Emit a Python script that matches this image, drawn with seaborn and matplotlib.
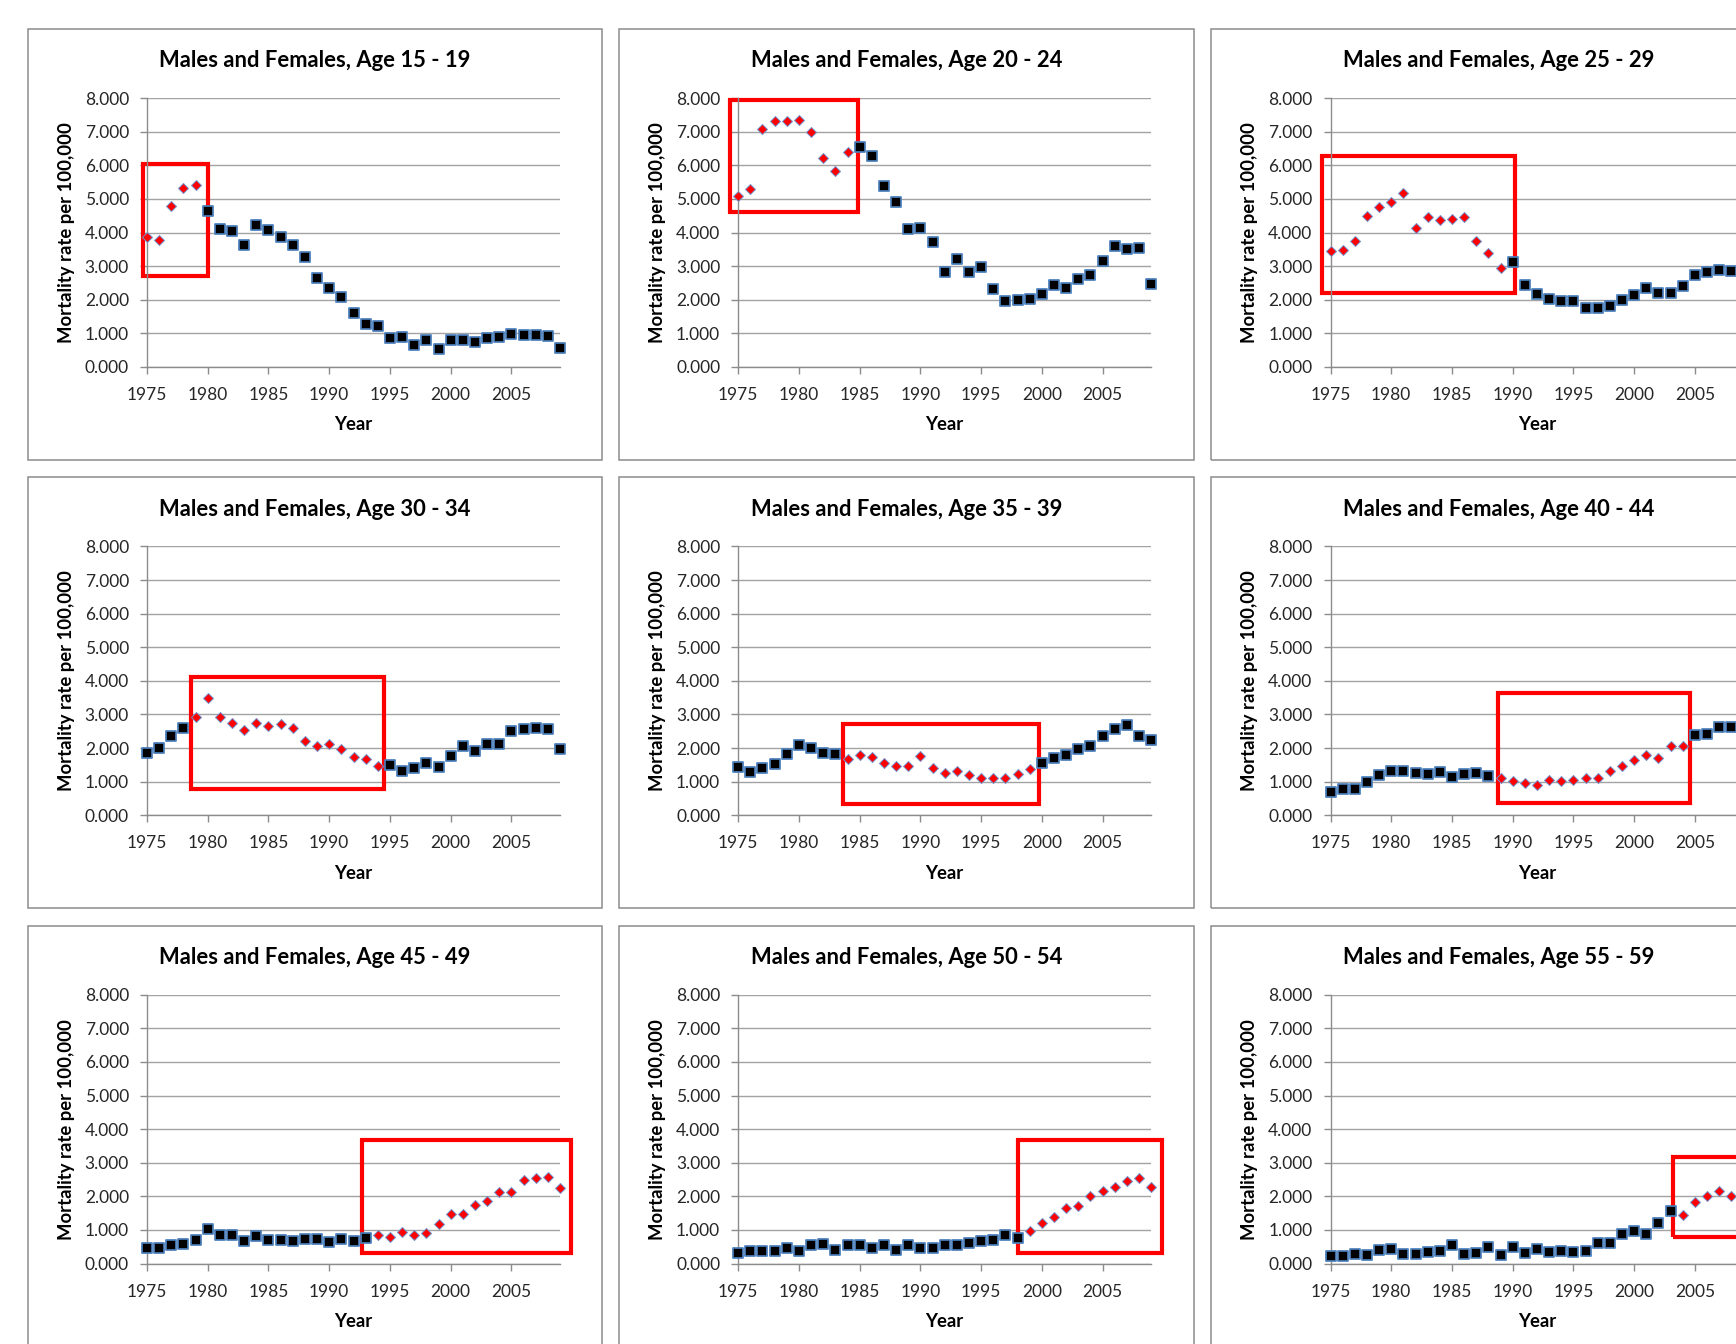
import matplotlib
matplotlib.use("Agg")
import matplotlib.pyplot as plt
import seaborn as sns
import pandas as pd
from matplotlib.patches import Rectangle
from matplotlib.ticker import FuncFormatter

# ---------------- data ----------------
years = list(range(1975, 2010))

rate_15_19 = [3.86, 3.77, 4.78, 5.32, 5.42, 4.65, 4.10, 4.03, 3.62, 4.22, 4.08, 3.86, 3.62, 3.26, 2.64,
              2.35, 2.07, 1.61, 1.29, 1.21, 0.86, 0.89, 0.66, 0.81, 0.52, 0.81, 0.81, 0.73, 0.86, 0.89,
              0.98, 0.96, 0.96, 0.93, 0.55]
rate_20_24 = [5.08, 5.28, 7.09, 7.31, 7.31, 7.36, 6.98, 6.21, 5.82, 6.39, 6.54, 6.28, 5.37, 4.91, 4.09,
              4.12, 3.72, 2.81, 3.21, 2.83, 2.96, 2.31, 1.95, 1.98, 2.01, 2.16, 2.45, 2.34, 2.62, 2.75,
              3.15, 3.61, 3.50, 3.54, 2.48]
rate_25_29 = [3.44, 3.49, 3.76, 4.48, 4.75, 4.90, 5.19, 4.13, 4.46, 4.36, 4.41, 4.46, 3.76, 3.39, 2.94,
              3.11, 2.43, 2.18, 2.03, 1.95, 1.95, 1.75, 1.75, 1.80, 2.00, 2.13, 2.35, 2.20, 2.20, 2.40,
              2.75, 2.82, 2.89, 2.84]
rate_30_34 = [1.86, 2.00, 2.37, 2.60, 2.94, 3.48, 2.94, 2.75, 2.53, 2.75, 2.65, 2.71, 2.60, 2.22, 2.05,
              2.12, 1.96, 1.73, 1.67, 1.48, 1.50, 1.33, 1.42, 1.55, 1.43, 1.76, 2.05, 1.91, 2.11, 2.13,
              2.52, 2.57, 2.60, 2.57, 1.97]
rate_35_39 = [1.43, 1.28, 1.40, 1.54, 1.83, 2.08, 2.01, 1.84, 1.82, 1.68, 1.80, 1.73, 1.56, 1.48, 1.48,
              1.76, 1.40, 1.25, 1.32, 1.20, 1.11, 1.12, 1.10, 1.22, 1.38, 1.56, 1.72, 1.78, 1.98, 2.05,
              2.35, 2.57, 2.69, 2.37, 2.23]
rate_40_44 = [0.69, 0.79, 0.77, 1.00, 1.20, 1.32, 1.33, 1.27, 1.22, 1.28, 1.14, 1.22, 1.25, 1.18, 1.10,
              1.02, 0.96, 0.90, 1.05, 1.01, 1.04, 1.12, 1.12, 1.33, 1.47, 1.66, 1.78, 1.70, 2.07, 2.05,
              2.38, 2.42, 2.62, 2.62]
rate_45_49 = [0.47, 0.47, 0.55, 0.59, 0.69, 1.04, 0.86, 0.84, 0.67, 0.81, 0.71, 0.71, 0.67, 0.74, 0.74,
              0.64, 0.74, 0.67, 0.76, 0.84, 0.79, 0.94, 0.84, 0.91, 1.19, 1.47, 1.47, 1.73, 1.86, 2.13,
              2.12, 2.48, 2.56, 2.58, 2.25]
rate_50_54 = [0.33, 0.38, 0.38, 0.38, 0.45, 0.37, 0.56, 0.57, 0.40, 0.54, 0.54, 0.47, 0.55, 0.40, 0.56,
              0.47, 0.47, 0.56, 0.56, 0.61, 0.66, 0.69, 0.84, 0.77, 0.96, 1.22, 1.38, 1.64, 1.70, 2.02,
              2.15, 2.28, 2.45, 2.55, 2.28]
rate_55_59 = [0.22, 0.22, 0.30, 0.25, 0.40, 0.43, 0.30, 0.30, 0.35, 0.38, 0.55, 0.30, 0.33, 0.48, 0.25,
              0.48, 0.32, 0.43, 0.35, 0.37, 0.35, 0.37, 0.62, 0.61, 0.89, 0.96, 0.87, 1.22, 1.56, 1.44,
              1.83, 2.00, 2.15, 2.00]

panel_titles = ["Males and Females, Age 15 - 19", "Males and Females, Age 20 - 24",
                "Males and Females, Age 25 - 29", "Males and Females, Age 30 - 34",
                "Males and Females, Age 35 - 39", "Males and Females, Age 40 - 44",
                "Males and Females, Age 45 - 49", "Males and Females, Age 50 - 54",
                "Males and Females, Age 55 - 59"]
panel_rates = [rate_15_19, rate_20_24, rate_25_29, rate_30_34, rate_35_39,
               rate_40_44, rate_45_49, rate_50_54, rate_55_59]

# highlighted (red) year windows
red_start = [1975, 1975, 1975, 1979, 1984, 1989, 1994, 1999, 2004]
red_end = [1979, 1984, 1989, 1994, 1999, 2004, 2009, 2009, 2009]
# highlight frames in data units: (year0, year1, rate0, rate1)
highlight_boxes = [(1974.68, 1980.04, 2.70, 6.05), (1974.3, 1984.9, 4.61, 7.95),
                   (1974.27, 1990.15, 2.20, 6.28), (1978.64, 1994.5, 0.79, 4.13),
                   (1983.65, 1999.78, 0.33, 2.72), (1988.8, 2004.6, 0.36, 3.65),
                   (1992.7, 2009.94, 0.33, 3.67), (1998.05, 2009.9, 0.33, 3.67),
                   (2003.2, 2009.9, 0.79, 3.17)]

x_ticks = [1975, 1980, 1985, 1990, 1995, 2000, 2005]
y_ticks = [0, 1, 2, 3, 4, 5, 6, 7, 8]
x_label = "Year"
y_label = "Mortality rate per 100,000"

# ---------------- style ----------------
sns.set_theme(style="white")
plt.rcParams["font.family"] = ["Lato", "DejaVu Sans"]

W, H = 1736, 1344
fig = plt.figure(figsize=(W / 100, H / 100), dpi=100)
fig.patch.set_facecolor("white")

PW, PH = 574.6, 430.7
col_x = [27.7, 618.9, 1211.2]
row_y = [28.8, 477.2, 925.5]
AL, AR, AT, AB = 119.3, 532.3, 69.3, 338.1

for i in range(9):
    r, c = divmod(i, 3)
    px0, py0 = col_x[c], row_y[r]
    # chart frame
    fig.add_artist(Rectangle((px0 / W, 1 - (py0 + PH) / H), PW / W, PH / H,
                             transform=fig.transFigure, fill=False,
                             edgecolor="#8c8c8c", linewidth=1.1))
    fig.text((px0 + PW / 2) / W, 1 - (py0 + 32) / H, panel_titles[i],
             ha="center", va="center", fontsize=15.8, fontweight="bold", color="black")

    ax = fig.add_axes([(px0 + AL) / W, 1 - (py0 + AB) / H, (AR - AL) / W, (AB - AT) / H])
    rates = panel_rates[i]
    df = pd.DataFrame({"year": years[:len(rates)], "rate": rates})
    df["hl"] = (df["year"] >= red_start[i]) & (df["year"] <= red_end[i])

    x0, x1, y0, y1 = highlight_boxes[i]
    ax.add_patch(Rectangle((x0, y0), x1 - x0, y1 - y0, fill=False, edgecolor="#ff0000",
                           linewidth=3.0, zorder=2, clip_on=False))

    sns.scatterplot(data=df[~df["hl"]], x="year", y="rate", marker="s", s=50,
                    color="black", edgecolor="#4a7ebb", linewidth=1.25,
                    ax=ax, legend=False, zorder=3, clip_on=False)
    sns.scatterplot(data=df[df["hl"]], x="year", y="rate", marker="D", s=26,
                    color="#ff0000", edgecolor="#6f93cf", linewidth=0.7,
                    ax=ax, legend=False, zorder=4, clip_on=False)

    ax.set_xlim(1975, 2009)
    ax.set_ylim(0, 8)
    ax.set_xticks(x_ticks)
    ax.set_yticks(y_ticks)
    ax.yaxis.set_major_formatter(FuncFormatter(lambda v, p: f"{v:.3f}"))
    ax.yaxis.grid(True, color="#a3a3a3", linewidth=1.0)
    ax.xaxis.grid(False)
    ax.set_axisbelow(True)
    for s in ["top", "right"]:
        ax.spines[s].set_visible(False)
    for s in ["left", "bottom"]:
        ax.spines[s].set_color("#8c8c8c")
        ax.spines[s].set_linewidth(1.0)
    ax.tick_params(axis="both", direction="out", length=5, width=1.0, color="#8c8c8c",
                   labelsize=12.5, labelcolor="#262626")
    ax.tick_params(axis="y", pad=8, left=True)
    ax.tick_params(axis="x", pad=9.5, bottom=True)
    ax.set_facecolor("none")

    ax.set_xlabel(x_label, fontsize=13.3, fontweight="bold", color="black")
    ax.set_ylabel(y_label, fontsize=13.3, fontweight="bold", color="black")
    ax.xaxis.set_label_coords(0.5, -58 / (AB - AT))
    ax.xaxis.label.set_va("center")
    ax.yaxis.set_label_coords(-80.6 / (AR - AL), 0.5)
    ax.yaxis.label.set_va("center")

fig.savefig("out.png", dpi=100)
